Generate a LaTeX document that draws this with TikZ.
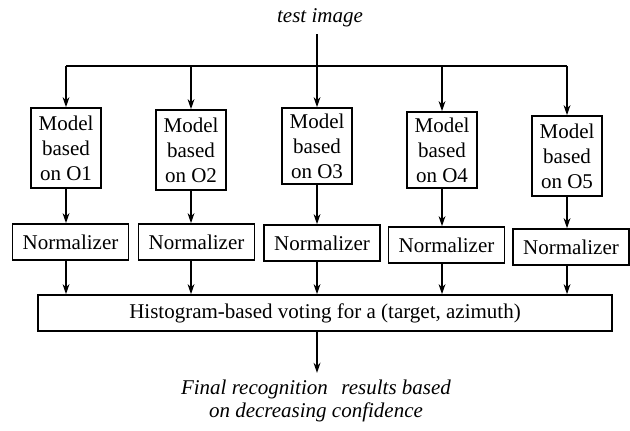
\documentclass[tikz,border=0pt]{standalone}
\usepackage{fontspec}
\setmainfont{Liberation Serif}
\usetikzlibrary{arrows.meta, positioning, calc}

\begin{document}
\begin{tikzpicture}[
  x=0.5pt, y=-0.5pt,
  model/.style={rectangle, draw, line width=0.8pt, minimum width=35pt, minimum height=40pt,
    inner sep=1pt, align=center, font=\fontsize{10.5}{12.5}\selectfont},
  norm/.style={rectangle, draw, line width=0.8pt, minimum width=58pt, minimum height=18pt,
    inner sep=1pt, font=\fontsize{10.5}{12.5}\selectfont},
  vote/.style={rectangle, draw, line width=0.8pt, minimum width=287pt, minimum height=18pt,
    inner sep=1pt, font=\fontsize{10.5}{12.5}\selectfont},
  label/.style={font=\fontsize{10.5}{11.5}\selectfont\itshape, align=center},
  arrow/.style={-{Stealth[length=5pt, width=3.4pt, inset=1.6pt]}, line width=0.8pt},
  bus/.style={line width=0.8pt}
]
\useasboundingbox (0,0) rectangle (630,431);

% Input image
\node[label] (img) at (320,18) {test image};

% Model layer
\node[model] (m1) at (66,148) {Model\\based\\on O1};
\node[model] (m2) at (191,150) {Model\\based\\on O2};
\node[model, minimum height=38pt] (m3) at (317,146) {Model\\based\\on O3};
\node[model, minimum height=38pt] (m4) at (442,150) {Model\\based\\on O4};
\node[model] (m5) at (567,156) {Model\\based\\on O5};

% Normalizer layer
\node[norm] (n1) at (70.5,242) {Normalizer};
\node[norm] (n2) at (196.5,242) {Normalizer};
\node[norm] (n3) at (322,243) {Normalizer};
\node[norm] (n4) at (446.5,245) {Normalizer};
\node[norm] (n5) at (571,247) {Normalizer};

% Voting
\node[vote] (v) at (325,313) {Histogram-based voting for a (target, azimuth)};

% Output
\node[label] (res) at (316,401) {Final recognition\hspace{0.4em} results based\\on decreasing confidence};

% Fan-out bus
\coordinate (bus) at (317,66);
\draw[bus] (m1.north |- bus) -- (m5.north |- bus);
\draw[arrow] (img.south -| m3) -- (m3.north);
\foreach \i in {1,2,4,5}
  \draw[arrow] (m\i.north |- bus) -- (m\i.north);

% Model -> normalizer -> voting
\foreach \i in {1,...,5} {
  \draw[arrow] (m\i.south) -- (m\i.south |- n\i.north);
  \draw[arrow] (n\i.south -| m\i) -- (m\i |- v.north);
}
\draw[arrow] (v.south -| m3) -- (m3 |- res.north);
\end{tikzpicture}
\end{document}
